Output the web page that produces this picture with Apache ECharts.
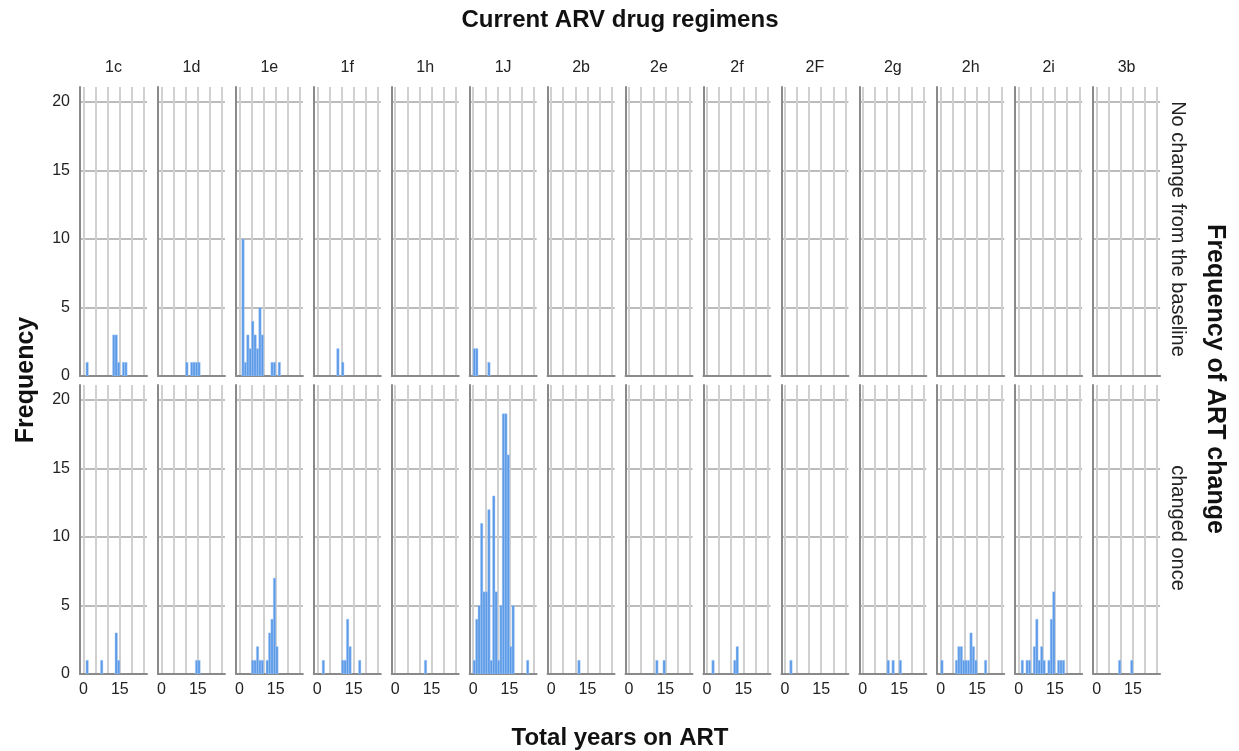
<!DOCTYPE html>
<html>
<head>
<meta charset="utf-8">
<script src="https://cdn.jsdelivr.net/npm/echarts@6/dist/echarts.min.js"></script>
<style>
html,body{margin:0;padding:0;background:#fff;}
#chart{width:1239px;height:751px;}
</style>
</head>
<body>
<div id="chart"></div>
<script>
// ---------- data ----------
const regimens = ['1c','1d','1e','1f','1h','1J','2b','2e','2f','2F','2g','2h','2i','3b'];
const rowLabels = ['No change from the baseline','changed once'];
const yTickValues = [0,5,10,15,20];
const xGridValues = [0,5,10,15,20,25];
const xLabelValues = [0,15];
const binWidth = 1; // years per histogram bin

// [bin start (years), frequency] — "No change from the baseline"
const none_1c = [[1,1],[12,3],[13,3],[14,1],[16,1],[17,1]];
const none_1d = [[10,1],[12,1],[13,1],[14,1],[15,1]];
const none_1e = [[1,10],[2,1],[3,3],[4,2],[5,4],[6,3],[7,2],[8,5],[9,3],[13,1],[14,1],[16,1]];
const none_1f = [[8,2],[10,1]];
const none_1h = [];
const none_1J = [[0,2],[1,2],[6,1]];
const none_2b = [];
const none_2e = [];
const none_2f = [];
const none_2F = [];
const none_2g = [];
const none_2h = [];
const none_2i = [];
const none_3b = [];

// "changed once"
const once_1c = [[1,1],[7,1],[13,3],[14,1]];
const once_1d = [[14,1],[15,1]];
const once_1e = [[5,1],[6,1],[7,2],[8,1],[9,1],[11,1],[12,3],[13,4],[14,7],[15,2]];
const once_1f = [[2,1],[10,1],[11,1],[12,4],[13,2],[17,1]];
const once_1h = [[12,1]];
const once_1J = [[0,1],[1,4],[2,5],[3,11],[4,6],[5,6],[6,12],[7,1],[8,13],[9,6],[10,1],[11,5],[12,19],[13,19],[14,16],[15,2],[16,5],[22,1]];
const once_2b = [[11,1]];
const once_2e = [[11,1],[14,1]];
const once_2f = [[2,1],[11,1],[12,2]];
const once_2F = [[2,1]];
const once_2g = [[10,1],[12,1],[15,1]];
const once_2h = [[0,1],[6,1],[7,2],[8,2],[9,1],[10,1],[11,1],[12,3],[13,2],[14,1],[18,1]];
const once_2i = [[1,1],[3,1],[4,1],[6,2],[7,4],[8,1],[9,2],[10,1],[12,1],[13,4],[14,6],[16,1],[17,1],[18,1]];
const once_3b = [[9,1],[14,1]];

const rowData = [
  [none_1c,none_1d,none_1e,none_1f,none_1h,none_1J,none_2b,none_2e,none_2f,none_2F,none_2g,none_2h,none_2i,none_3b],
  [once_1c,once_1d,once_1e,once_1f,once_1h,once_1J,once_2b,once_2e,once_2f,once_2F,once_2g,once_2h,once_2i,once_3b]
];

// ---------- layout ----------
const FONT = '"Liberation Sans", Arial, sans-serif';
const panelLeft0 = 80, panelPitch = 77.93, panelWidth = 67;
const rowTop = [87, 385], rowHeight = 289;
const xMin = -1.45, xMax = 26.2, yMax = 21.1;
const barColor = '#5b9ae8';

const chart = echarts.init(document.getElementById('chart'), null, {renderer:'canvas'});

const grids = [], xAxes = [], yAxes = [], series = [], graphics = [];
let idx = 0;
for (let r = 0; r < 2; r++) {
  for (let c = 0; c < regimens.length; c++) {
    grids.push({left: panelLeft0 + c*panelPitch, top: rowTop[r], width: panelWidth, height: rowHeight, containLabel:false, outerBoundsMode:'none'});
    xAxes.push({
      type:'value', gridIndex: idx, min:xMin, max:xMax,
      axisLine:{show:true, onZero:false, lineStyle:{color:'#8a8a8a', width:2}},
      axisTick:{show:false, customValues: xGridValues},
      axisLabel:{show: r===1, customValues: xLabelValues, color:'#222', fontSize:16, fontFamily:FONT, margin:8},
      splitLine:{show:true, lineStyle:{color:'#d0d0d0', width:2}}
    });
    yAxes.push({
      type:'value', gridIndex: idx, min:0, max:yMax,
      axisLine:{show:true, onZero:false, lineStyle:{color:'#8a8a8a', width:2}},
      axisTick:{show:false, customValues: yTickValues},
      axisLabel:{show: c===0, customValues: yTickValues, color:'#222', fontSize:16, fontFamily:FONT, margin:10},
      splitLine:{show:true, lineStyle:{color:'#bcbcbc', width:2}}
    });
    series.push({
      type:'custom', xAxisIndex: idx, yAxisIndex: idx, clip:true, z:5,
      data: rowData[r][c],
      renderItem: function(params, api){
        const x0 = api.value(0), v = api.value(1);
        const p0 = api.coord([x0, 0]);
        const p1 = api.coord([x0 + binWidth, v]);
        return {type:'rect', shape:{x:p0[0], y:p1[1], width:p1[0]-p0[0], height:p0[1]-p1[1]},
          style:{fill:barColor, stroke:'rgba(170,205,245,0.9)', lineWidth:0.5}};
      }
    });
    idx++;
  }
}

// column headers
regimens.forEach((name, c) => {
  graphics.push({type:'text', x: panelLeft0 + c*panelPitch + panelWidth/2, y: 68,
    style:{text:name, fill:'#222', font:'16px ' + FONT, textAlign:'center', textVerticalAlign:'middle'}});
});
// row strip labels
const stripY = [229, 528];
rowLabels.forEach((name, r) => {
  graphics.push({type:'text', x: 1178, y: stripY[r], rotation: -Math.PI/2,
    style:{text:name, fill:'#222', font:'20px ' + FONT, textAlign:'center', textVerticalAlign:'middle'}});
});
graphics.push({type:'text', x:620, y:20, style:{text:'Current ARV drug regimens', fill:'#111', font:'bold 24px ' + FONT, textAlign:'center', textVerticalAlign:'middle'}});
graphics.push({type:'text', x:620, y:738, style:{text:'Total years on ART', fill:'#111', font:'bold 24px ' + FONT, textAlign:'center', textVerticalAlign:'middle'}});
graphics.push({type:'text', x:26, y:380, rotation: Math.PI/2, style:{text:'Frequency', fill:'#111', font:'bold 25px ' + FONT, textAlign:'center', textVerticalAlign:'middle'}});
graphics.push({type:'text', x:1215, y:379, rotation: -Math.PI/2, style:{text:'Frequency of ART change', fill:'#111', font:'bold 25px ' + FONT, textAlign:'center', textVerticalAlign:'middle'}});

chart.setOption({
  animation:false,
  backgroundColor:'#fff',
  grid: grids, xAxis: xAxes, yAxis: yAxes, series: series,
  graphic: graphics
});
</script>
</body>
</html>
